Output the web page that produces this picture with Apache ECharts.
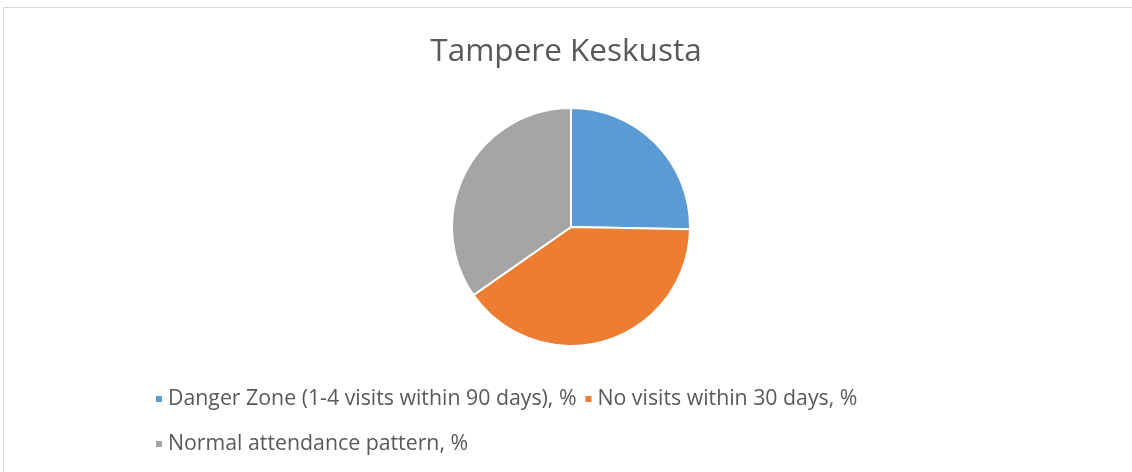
<!DOCTYPE html>
<html>
<head>
<meta charset="utf-8">
<script src="https://cdn.jsdelivr.net/npm/echarts@6/dist/echarts.min.js"></script>
<style>
  html, body { margin: 0; padding: 0; background: #fff; }
  #chart { width: 1132px; height: 472px; }
</style>
</head>
<body>
<div id="chart"></div>
<script>
// slice names and shares (%)
const categories = [
  'Danger Zone (1-4 visits within 90 days), %',
  'No visits within 30 days, %',
  'Normal attendance pattern, %'
];
const shares = [25.3, 40.0, 34.7];
const colors = ['#5b9bd5', '#ed7d31', '#a5a5a5'];

const myChart = echarts.init(document.getElementById('chart'));

const legendText = {
  color: '#595959',
  fontFamily: 'Open Sans',
  fontSize: 21.3,
  lineHeight: 24
};

const option = {
  animation: false,
  title: {
    text: 'Tampere Keskusta',
    left: 'center',
    top: 31,
    textStyle: {
      color: '#595959',
      fontFamily: 'Open Sans',
      fontSize: 31.5,
      fontWeight: 'normal'
    }
  },
  legend: [
    {
      data: categories.slice(0, 2),
      left: 149,
      top: 382,
      icon: 'rect',
      itemWidth: 8,
      itemHeight: 8,
      itemGap: 7,
      textStyle: legendText
    },
    {
      data: categories.slice(2),
      left: 149,
      top: 427,
      icon: 'rect',
      itemWidth: 8,
      itemHeight: 8,
      textStyle: legendText
    }
  ],
  graphic: [
    {
      type: 'polyline',
      shape: { points: [[3.5, 472], [3.5, 7.5], [1132, 7.5]] },
      style: { stroke: '#d9d9d9', lineWidth: 1, fill: null }
    }
  ],
  series: [
    {
      type: 'pie',
      center: [571, 227],
      radius: 119,
      startAngle: 90,
      clockwise: true,
      label: { show: false },
      labelLine: { show: false },
      emphasis: { disabled: true },
      itemStyle: { borderColor: '#fff', borderWidth: 2 },
      data: categories.map((name, i) => ({
        name: name,
        value: shares[i],
        itemStyle: { color: colors[i] }
      }))
    }
  ]
};

myChart.setOption(option);
</script>
</body>
</html>
